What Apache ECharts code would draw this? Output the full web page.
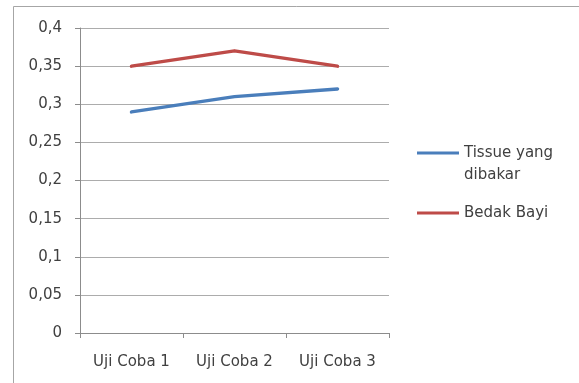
<!DOCTYPE html>
<html>
<head>
<meta charset="utf-8">
<script src="https://cdn.jsdelivr.net/npm/echarts@6/dist/echarts.min.js"></script>
<style>
  html, body { margin: 0; padding: 0; background: #fff; }
  #chart { width: 579px; height: 383px; }
</style>
</head>
<body>
<div id="chart"></div>
<script>
// Categories and series values
var categories = ['Uji Coba 1', 'Uji Coba 2', 'Uji Coba 3'];
var tissueValues = [0.29, 0.31, 0.32];
var bedakValues = [0.35, 0.37, 0.35];
var seriesNames = ['Tissue yang dibakar', 'Bedak Bayi'];
var yMin = 0, yMax = 0.4, yStep = 0.05;

var FONT = 'DejaVu Sans';
var chart = echarts.init(document.getElementById('chart'), null, { renderer: 'canvas' });

function commaDecimal(v) {
  return String(Math.round(v * 100) / 100).replace('.', ',');
}

var legendText = { fontFamily: FONT, fontSize: 15, color: '#404040', lineHeight: 22 };

chart.setOption({
  animation: false,
  backgroundColor: '#ffffff',
  graphic: [{
    type: 'rect',
    shape: { x: 13.5, y: 6.5, width: 600, height: 420 },
    style: { fill: 'none', stroke: '#a6a6a6', lineWidth: 1 },
    silent: true
  }],
  grid: { left: 80, top: 28, width: 309, height: 305, containLabel: false },
  legend: [{
    data: [seriesNames[0]],
    orient: 'vertical',
    left: 417,
    top: 120,
    padding: 0,
    itemWidth: 42,
    itemHeight: 3,
    itemGap: 0,
    icon: 'rect',
    // empty first line keeps the swatch level with "Tissue yang"
    formatter: function () { return ' \nTissue yang\ndibakar'; },
    textStyle: legendText
  }, {
    data: [seriesNames[1]],
    orient: 'vertical',
    left: 417,
    top: 202,
    padding: 0,
    itemWidth: 42,
    itemHeight: 3,
    icon: 'rect',
    textStyle: legendText
  }],
  xAxis: {
    type: 'category',
    data: categories,
    boundaryGap: true,
    axisLine: { lineStyle: { color: '#8c8c8c', width: 1 } },
    axisTick: { show: true, alignWithLabel: false, length: 5, lineStyle: { color: '#8c8c8c' } },
    axisLabel: { fontFamily: FONT, fontSize: 15, color: '#404040', margin: 22 },
    splitLine: { show: false }
  },
  yAxis: {
    type: 'value',
    min: yMin,
    max: yMax,
    interval: yStep,
    axisLine: { show: true, lineStyle: { color: '#8c8c8c', width: 1 } },
    axisTick: { show: true, length: 5, lineStyle: { color: '#8c8c8c' } },
    axisLabel: {
      fontFamily: FONT, fontSize: 15, color: '#404040', margin: 18,
      formatter: commaDecimal
    },
    splitLine: { show: true, lineStyle: { color: '#acacac', width: 1 } }
  },
  series: [{
    name: seriesNames[0],
    type: 'line',
    data: tissueValues,
    symbol: 'none',
    color: '#4a7ebb',
    lineStyle: { width: 3.5, cap: 'round', join: 'round' }
  }, {
    name: seriesNames[1],
    type: 'line',
    data: bedakValues,
    symbol: 'none',
    color: '#be4b48',
    lineStyle: { width: 3.5, cap: 'round', join: 'round' }
  }]
});
</script>
</body>
</html>
